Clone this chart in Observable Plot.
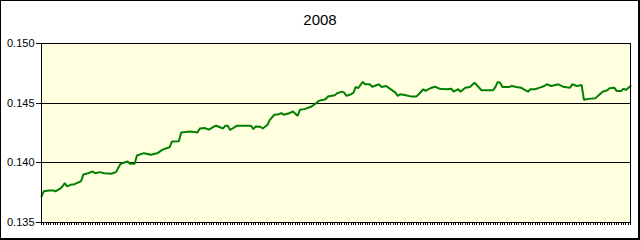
<!DOCTYPE html>
<html>
<head>
<meta charset="utf-8">
<script src="https://cdn.jsdelivr.net/npm/d3@7"></script>
<script src="https://cdn.jsdelivr.net/npm/@observablehq/plot@0.6"></script>
<style>
  html, body { margin: 0; padding: 0; background: #fff; }
  #wrap { position: relative; width: 640px; height: 240px; overflow: hidden; font-family: "Liberation Sans", Arial, sans-serif; }
  #title { position: absolute; left: 0; top: 12px; width: 640px; text-align: center; font-size: 15px; line-height: 16px; color: #000; }
  #border { position: absolute; left: 0; top: 0; width: 640px; height: 240px; box-sizing: border-box; border: 1px solid #000; border-right-width: 2px; border-bottom-width: 2px; pointer-events: none; }
  #chart svg { display: block; }
  #chart svg g[aria-label="x-axis tick"],
  #chart svg g[aria-label="y-axis tick"],
  #chart svg g[aria-label="rule"],
  #chart svg g[aria-label="frame"] { shape-rendering: crispEdges; }
</style>
</head>
<body>
<div id="wrap">
  <div id="chart"></div>
  <div id="title">2008</div>
  <div id="border"></div>
</div>
<script>
const title = "2008";
const yTicks = [0.135, 0.140, 0.145, 0.150];
const gridValues = [0.140, 0.145, 0.150];
const dayCount = 253;
const days = [0,1,3,5,6,8,9,10,11,13,14,17,18,20,22,23,25,27,30,32,33,34,37,38,40,41,44,47,50,52,55,56,59,60,64,67,68,70,72,74,75,78,79,80,81,84,90,91,92,94,95,97,98,100,102,103,104,106,108,110,111,113,116,118,119,121,122,123,126,127,129,130,131,133,134,135,136,138,139,141,142,143,145,146,148,149,151,152,153,154,156,159,161,162,164,165,167,169,171,174,176,177,179,180,182,184,186,187,189,194,195,196,197,198,201,202,204,206,207,209,210,212,214,216,217,219,222,224,227,228,230,232,233,235,238,239,241,243,244,246,247,249,250,251,253];
const rates = [0.13719,0.13761,0.13769,0.13769,0.13761,0.13783,0.13803,0.13830,0.13803,0.13819,0.13819,0.13847,0.13903,0.13913,0.13928,0.13913,0.13922,0.13913,0.13908,0.13922,0.13958,0.13992,0.14011,0.13992,0.13992,0.14061,0.14081,0.14067,0.14083,0.14111,0.14130,0.14178,0.14180,0.14255,0.14263,0.14255,0.14288,0.14292,0.14278,0.14303,0.14311,0.14288,0.14311,0.14311,0.14275,0.14311,0.14311,0.14283,0.14305,0.14303,0.14288,0.14317,0.14358,0.14403,0.14408,0.14417,0.14403,0.14413,0.14430,0.14394,0.14444,0.14450,0.14472,0.14500,0.14519,0.14528,0.14533,0.14555,0.14567,0.14583,0.14597,0.14588,0.14561,0.14575,0.14588,0.14636,0.14625,0.14678,0.14658,0.14658,0.14638,0.14644,0.14658,0.14636,0.14644,0.14630,0.14603,0.14588,0.14561,0.14575,0.14569,0.14555,0.14555,0.14575,0.14617,0.14603,0.14625,0.14638,0.14621,0.14617,0.14621,0.14596,0.14617,0.14596,0.14630,0.14636,0.14672,0.14650,0.14608,0.14608,0.14636,0.14678,0.14672,0.14636,0.14636,0.14644,0.14636,0.14630,0.14617,0.14596,0.14617,0.14617,0.14630,0.14644,0.14658,0.14644,0.14658,0.14638,0.14630,0.14658,0.14644,0.14653,0.14528,0.14536,0.14542,0.14561,0.14596,0.14608,0.14625,0.14630,0.14603,0.14603,0.14621,0.14611,0.14644];

const data = days.map((d, i) => ({day: d, rate: rates[i]}));
document.getElementById("title").textContent = title;

const chart = Plot.plot({
  width: 640,
  height: 240,
  marginLeft: 41,
  marginRight: 10,
  marginTop: 43,
  marginBottom: 18,
  style: {fontFamily: "'Liberation Sans', Arial, sans-serif", fontSize: "11px", color: "#000", background: "transparent"},
  x: {domain: [0, dayCount]},
  y: {domain: [0.135, 0.150]},
  marks: [
    Plot.frame({fill: "#FFFFE0", stroke: null}),
    Plot.ruleY(gridValues, {stroke: "#000", strokeWidth: 1}),
    Plot.line(data, {x: "day", y: "rate", stroke: "#008000", strokeWidth: 2, strokeLinejoin: "miter"}),
    Plot.frame({stroke: "#000", strokeWidth: 1}),
    Plot.axisY({ticks: yTicks, tickFormat: d3.format(".3f"), tickSize: 5, tickPadding: 2, label: null, stroke: "#000", strokeOpacity: 1, fill: "#000"}),
    Plot.axisX({ticks: d3.range(0, dayCount + 1), tickSize: 3, tickFormat: () => "", label: null, stroke: "#000", strokeOpacity: 1})
  ]
});
document.getElementById("chart").appendChild(chart);
</script>
</body>
</html>
